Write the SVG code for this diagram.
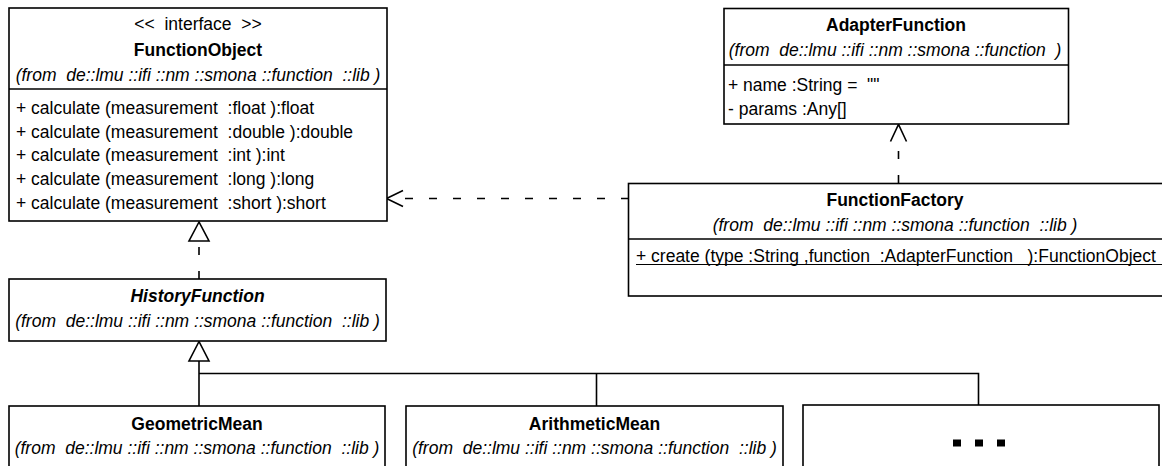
<svg xmlns="http://www.w3.org/2000/svg" width="1162" height="466" viewBox="0 0 1162 466" xml:space="preserve">
<style>
  text { font-family: "Liberation Sans", Arial, sans-serif; font-size: 17.5px; fill: #000; white-space: pre; }
  .c { text-anchor: middle; }
  .b { font-weight: bold; }
  .i { font-style: italic; }
  .box { fill: #fff; stroke: #000; stroke-width: 1.6; }
  .sep { stroke: #000; stroke-width: 1.6; fill: none; }
  .ln { stroke: #000; stroke-width: 1.6; fill: none; }
  .dash { stroke: #000; stroke-width: 1.6; fill: none; stroke-dasharray: 8 16; }
  .tri { fill: #fff; stroke: #000; stroke-width: 1.6; stroke-linejoin: miter; }
</style>
<rect x="0" y="0" width="1162" height="466" fill="#fff"/>

<g id="connectors">
  <!-- FunctionFactory -> FunctionObject (dependency) -->
  <line class="dash" x1="629" y1="198.5" x2="405" y2="198.5"/>
  <polyline class="ln" points="403,190.5 386.5,198.5 403,206.5"/>
  <!-- FunctionFactory -> AdapterFunction (dependency) -->
  <line class="dash" x1="898.5" y1="183" x2="898.5" y2="142"/>
  <polyline class="ln" points="890.5,141.5 898.5,124.5 906.5,141.5"/>
  <!-- HistoryFunction -> FunctionObject (realization) -->
  <line class="dash" x1="199" y1="279" x2="199" y2="241"/>
  <polygon class="tri" points="199,222 189,241 209,241"/>
  <!-- Generalizations to HistoryFunction -->
  <polyline class="ln" points="199,406 199,361"/>
  <polyline class="ln" points="199,373.5 978.5,373.5 978.5,405"/>
  <line class="ln" x1="596.5" y1="373.5" x2="596.5" y2="406"/>
  <polygon class="tri" points="199,341.5 189,361 209,361"/>
</g>

<g id="FunctionObject">
  <rect class="box" x="9" y="8" width="378" height="213"/>
  <text class="c" x="198" y="30">&lt;&lt;  interface  &gt;&gt;</text>
  <text class="c b" x="198" y="56">FunctionObject</text>
  <text class="c i" x="198" y="81">(from  de::lmu ::ifi ::nm ::smona ::function  ::lib )</text>
  <line class="sep" x1="9" y1="89" x2="387" y2="89"/>
  <text x="16" y="114">+ calculate (measurement  :float ):float</text>
  <text x="16" y="137.7">+ calculate (measurement  :double ):double</text>
  <text x="16" y="161.4">+ calculate (measurement  :int ):int</text>
  <text x="16" y="185.1">+ calculate (measurement  :long ):long</text>
  <text x="16" y="208.8">+ calculate (measurement  :short ):short</text>
</g>

<g id="AdapterFunction">
  <rect class="box" x="724" y="8.5" width="344.5" height="115.5"/>
  <text class="c b" x="896" y="30.5">AdapterFunction</text>
  <text class="c i" x="895" y="55.5">(from  de::lmu ::ifi ::nm ::smona ::function  )</text>
  <line class="sep" x1="724" y1="65" x2="1068.5" y2="65"/>
  <text x="728" y="91">+ name :String =  ""</text>
  <text x="728" y="114.7">- params :Any[]</text>
</g>

<g id="FunctionFactory">
  <rect class="box" x="628.5" y="183.5" width="560" height="112.5"/>
  <text class="c b" x="895" y="206">FunctionFactory</text>
  <text class="c i" x="895" y="230.5">(from  de::lmu ::ifi ::nm ::smona ::function  ::lib )</text>
  <line class="sep" x1="628.5" y1="239" x2="1162" y2="239"/>
  <text x="636" y="262">+ create (type :String ,function  :AdapterFunction   ):FunctionObject</text>
  <line x1="636" y1="264.5" x2="1162" y2="264.5" stroke="#000" stroke-width="1.2"/>
</g>

<g id="HistoryFunction">
  <rect class="box" x="9" y="279" width="377" height="62"/>
  <text class="c b i" x="197.5" y="301.5">HistoryFunction</text>
  <text class="c i" x="197.5" y="326.5">(from  de::lmu ::ifi ::nm ::smona ::function  ::lib )</text>
</g>

<g id="GeometricMean">
  <rect class="box" x="9" y="406" width="376" height="80"/>
  <text class="c b" x="197" y="429.5">GeometricMean</text>
  <text class="c i" x="197" y="453.5">(from  de::lmu ::ifi ::nm ::smona ::function  ::lib )</text>
</g>

<g id="ArithmeticMean">
  <rect class="box" x="406" y="406" width="377" height="80"/>
  <text class="c b" x="594.5" y="429.5">ArithmeticMean</text>
  <text class="c i" x="594.5" y="453.5">(from  de::lmu ::ifi ::nm ::smona ::function  ::lib )</text>
</g>

<g id="More">
  <rect class="box" x="803" y="405" width="356" height="81"/>
  <rect x="953" y="439.5" width="8" height="7" fill="#000"/>
  <rect x="975" y="439.5" width="8" height="7" fill="#000"/>
  <rect x="997" y="439.5" width="8" height="7" fill="#000"/>
</g>
</svg>
